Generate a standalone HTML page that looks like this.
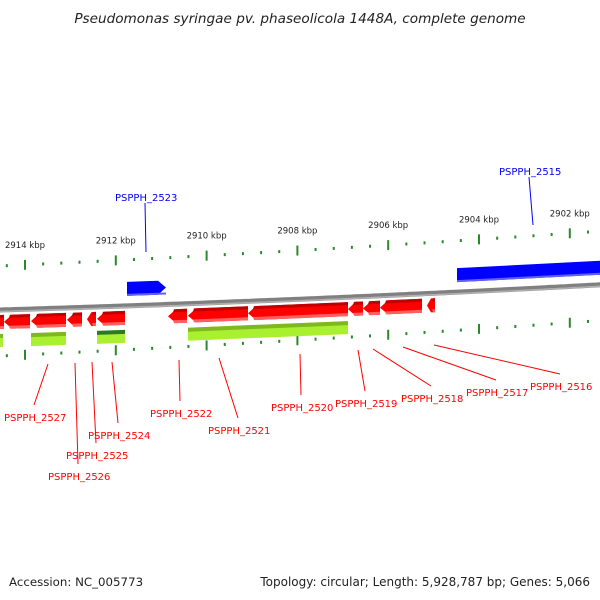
<!DOCTYPE html>
<html><head><meta charset="utf-8"><style>
html,body{margin:0;padding:0;background:#fff;}
svg{display:block;font-family:"DejaVu Sans","Liberation Sans",sans-serif;}
</style></head><body>
<svg id="c" width="600" height="600">
<text x="300" y="23" text-anchor="middle" font-size="13.6" font-style="italic" fill="#222">Pseudomonas syringae pv. phaseolicola 1448A, complete genome</text>
<text x="9" y="586" font-size="11.8" fill="#222">Accession: NC_005773</text>
<text x="590" y="586" text-anchor="end" font-size="12" fill="#222">Topology: circular; Length: 5,928,787 bp; Genes: 5,066</text>
<g id="g"></g>
</svg>
<script>
const tickKbp=[2914,2912,2910,2908,2906,2904,2902];
const revGenes=[[-10,4],[4,30],[31,66],[67,82],[87,96],[97,125],[168,187],[188,248],[248,348],[348,363],[363,380],[380,422],[427,435]];
const greenGenes=[[-10,3],[31,66],[97,125],[188,348]];
const fwdGenes=[[127,166],[457,610]];
const redLabels=[["PSPPH_2527",4,417,48,364],["PSPPH_2526",48,476,75,363],["PSPPH_2525",66,455,92,362],["PSPPH_2524",88,435,112,362],["PSPPH_2522",150,413,179,360],["PSPPH_2521",208,430,219,358],["PSPPH_2520",271,407,300,354],["PSPPH_2519",335,403,358,350],["PSPPH_2518",401,398,373,349],["PSPPH_2517",466,392,403,347],["PSPPH_2516",530,386,434,345]];
const blueLabels=[["PSPPH_2523",115,197,146,252],["PSPPH_2515",499,171,533,225]];
const NS='http://www.w3.org/2000/svg';
const g=document.getElementById('g');
const xk=k=>25+(2914-k)*45.4;
const yB=x=>310-0.03*x-0.00002*x*x;
const yT=x=>yB(x)-44-0.016*x;
const yBot=x=>yB(x)+46-0.017*x;
function mk(t,a){const e=document.createElementNS(NS,t);for(const k in a)e.setAttribute(k,a[k]);g.appendChild(e);return e;}
let d='';for(let x=-5;x<=605;x+=5)d+=(x<0?'M':'L')+x+','+yB(x).toFixed(1);
let bb=mk('path',{d:d,stroke:'#808080','stroke-width':5,fill:'none'});


mk('path',{d:d,stroke:'#b0b0b0','stroke-width':1.5,fill:'none',transform:'translate(0,1.5)'});
for(let i=-1;i<=7;i++){for(let j=0;j<5;j++){const x=xk(tickKbp[0])+(i*5+j)*18.16;if(x<-2||x>602)continue;const maj=j===0;
 [yT,yBot].forEach((f,r)=>{const y=f(x);const t=mk('rect',{x:x-1,y:maj?y-5:y-1.5,width:2,height:maj?10:3,fill:'#2a8a2a'});
 
 });}}
tickKbp.forEach(k=>{const x=xk(k);const t=mk('text',{x:x,y:yT(x)-17,'text-anchor':'middle','font-size':'8.5',fill:'#222'});t.textContent=k+' kbp';

});
function gene(x1,x2,a,b,fill,dir,name){const w=Math.min(8,(x2-x1)*0.5);let pts;
 if(dir<0)pts=[[x1,(a+b)/2],[x1+w,a],[x2,a],[x2,b],[x1+w,b]];
 else if(dir>0)pts=[[x1,a],[x2-w,a],[x2,(a+b)/2],[x2-w,b],[x1,b]];
 else pts=[[x1,a],[x2,a],[x2,b],[x1,b]];
 const p=mk('polygon',{points:pts.map(q=>q[0]+','+(yB(q[0])+q[1]).toFixed(1)).join(' '),fill:fill});
 
 return p;}
revGenes.forEach(([x1,x2])=>{gene(x1,x2,5,19,'#ff0000',-1,'reverse-gene');mk('polygon',{points:[[x1+6,5],[x2,5],[x2,8],[x1+5,8]].map(q=>q[0]+','+(yB(q[0])+q[1]).toFixed(1)).join(' '),fill:'#c00000'});mk('polygon',{points:[[x1+5,16],[x2,16],[x2,19],[x1+6,19]].map(q=>q[0]+','+(yB(q[0])+q[1]).toFixed(1)).join(' '),fill:'#ff6060'});});
greenGenes.forEach(([x1,x2],i)=>{gene(x1,x2,24,37,'#a8f030',0,'cds-feature');mk('polygon',{points:[[x1,24],[x2,24],[x2,28],[x1,28]].map(q=>q[0]+','+(yB(q[0])+q[1]).toFixed(1)).join(' '),fill:i===2?'#2a7a2a':'#80b820'});});
fwdGenes.forEach(([x1,x2])=>{gene(x1,x2,-24,-10,'#0000ff',1,'forward-gene');mk('polygon',{points:[[x1,-12],[x2,-12],[x2,-10],[x1,-10]].map(q=>q[0]+','+(yB(q[0])+q[1]).toFixed(1)).join(' '),fill:'#6060ff'});});
function lab(arr,col){arr.forEach(([s,x,y,lx,ly])=>{const below=col==='#ff0000';
 const l=mk('line',{x1:lx,y1:ly,x2:x+30,y2:below?y-12:y+6,stroke:col,'stroke-width':1});
 
 
 const t=mk('text',{x:x,y:y+4,'font-size':'10',fill:col});t.textContent=s;
 
 });}
lab(redLabels,'#ff0000');lab(blueLabels,'#0000ff');
</script>
</body></html>
